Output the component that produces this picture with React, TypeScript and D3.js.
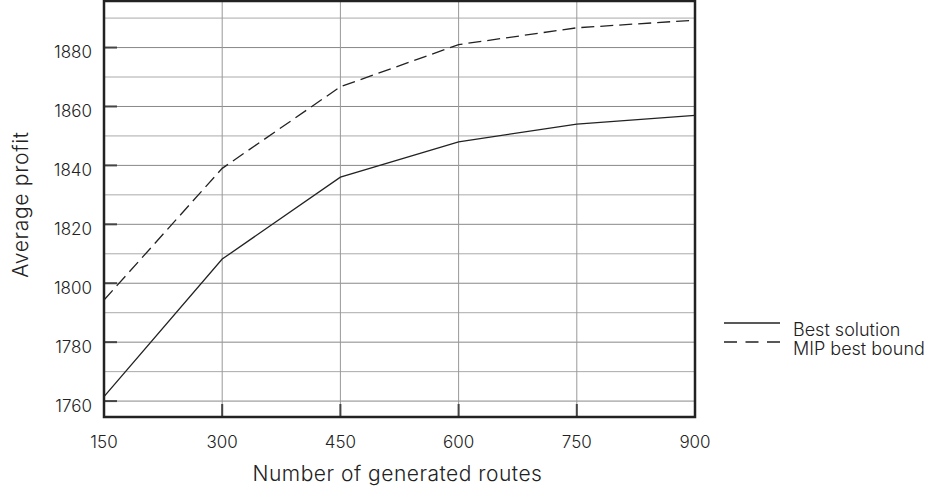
import React from "react";
import * as d3 from "d3";

const routes = [150, 300, 450, 600, 750, 900];
const bestSolution = [1761.5, 1808.2, 1836, 1848, 1854, 1857];
const mipBestBound = [1794.3, 1839, 1866.7, 1881, 1886.7, 1889.3];
const yTicks = [1760, 1780, 1800, 1820, 1840, 1860, 1880];
const yMinorTicks = [1770, 1790, 1810, 1830, 1850, 1870, 1890];
const seriesNames = ["Best solution", "MIP best bound"];

const W = 927;
const H = 494;
const left = 104;
const right = 695;
const top = 1;
const bottom = 417;
const FONT = "Inter, 'Liberation Sans', Arial, sans-serif";

export default function App() {
  const x = d3.scaleLinear().domain([150, 900]).range([left, right]);
  const y = d3.scaleLinear().domain([1754.6, 1895.8]).range([bottom, top]);
  const line = d3
    .line<number>()
    .x((_, i) => x(routes[i]))
    .y((d) => y(d));

  return (
    <svg
      width={W}
      height={H}
      style={{ position: "absolute", left: 0, top: 0, background: "#fff" }}
      fontFamily={FONT}
    >
      {yMinorTicks.map((v) => (
        <line key={"m" + v} x1={left} x2={right} y1={y(v)} y2={y(v)} stroke="#aaa" strokeWidth={1} />
      ))}
      {yTicks.map((v) => (
        <line key={"g" + v} x1={left} x2={right} y1={y(v)} y2={y(v)} stroke="#888" strokeWidth={1} />
      ))}
      {routes.slice(1, -1).map((v) => (
        <line key={"v" + v} x1={x(v)} x2={x(v)} y1={top} y2={bottom} stroke="#999" strokeWidth={1} />
      ))}
      {yTicks.map((v) => (
        <line key={"t" + v} x1={left} x2={left + 13} y1={y(v)} y2={y(v)} stroke="#444" strokeWidth={2} />
      ))}
      {routes.map((v) => (
        <line key={"xt" + v} x1={x(v)} x2={x(v)} y1={bottom} y2={bottom - 13} stroke="#444" strokeWidth={2} />
      ))}
      <path d={line(bestSolution) || ""} fill="none" stroke="#222" strokeWidth={1.3} />
      <path d={line(mipBestBound) || ""} fill="none" stroke="#222" strokeWidth={1.3} strokeDasharray="13,6" />
      <rect x={left} y={top} width={right - left} height={bottom - top} fill="none" stroke="#222" strokeWidth={2.5} />
      {yTicks.map((v) => (
        <text key={"yl" + v} x={92} y={y(v) + 10.6} textAnchor="end" fontSize={17} fontWeight={300} fill="#222">
          {v}
        </text>
      ))}
      {routes.map((v) => (
        <text key={"xl" + v} x={x(v)} y={448.3} textAnchor="middle" fontSize={17} fontWeight={300} fill="#222">
          {v}
        </text>
      ))}
      <text
        x={(left + right) / 2 - 2}
        y={481}
        textAnchor="middle"
        fontSize={21}
        fontWeight={300}
        letterSpacing={0.5}
        fill="#222"
      >
        Number of generated routes
      </text>
      <text
        transform={`translate(28,204.5) rotate(-90)`}
        textAnchor="middle"
        fontSize={21}
        fontWeight={300}
        letterSpacing={0.7}
        fill="#222"
      >
        Average profit
      </text>
      <line x1={724} x2={780} y1={323} y2={323} stroke="#222" strokeWidth={1.3} />
      <line x1={724} x2={780} y1={342} y2={342} stroke="#222" strokeWidth={1.3} strokeDasharray="13,8.5" />
      <text x={793} y={336} fontSize={18} fontWeight={300} fill="#222">
        {seriesNames[0]}
      </text>
      <text x={793} y={355} fontSize={18} fontWeight={300} fill="#222">
        {seriesNames[1]}
      </text>
    </svg>
  );
}
